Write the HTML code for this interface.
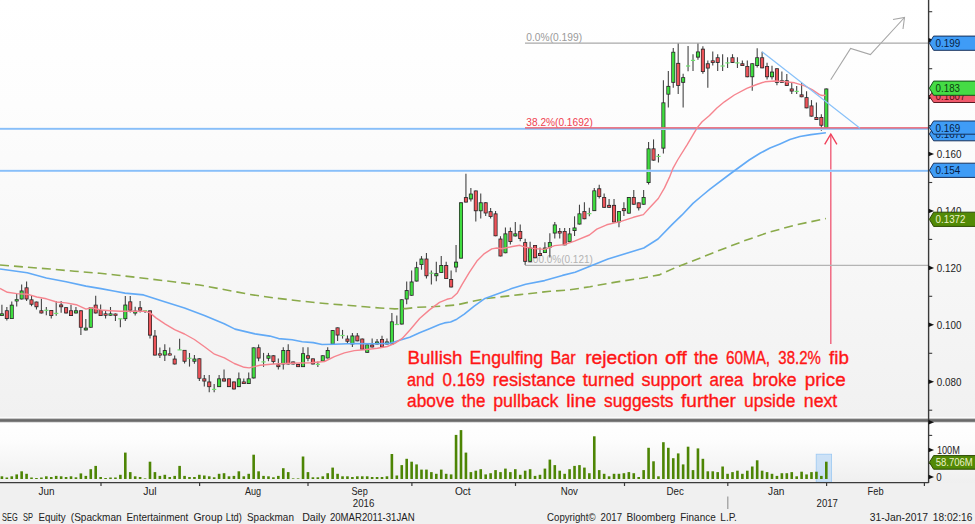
<!DOCTYPE html>
<html><head><meta charset="utf-8"><title>SEG SP Equity</title>
<style>
html,body{margin:0;padding:0;background:#f0f0f0;}
body{width:975px;height:524px;overflow:hidden;position:relative;font-family:"Liberation Sans",sans-serif;}
svg text{font-family:"Liberation Sans",sans-serif;}
</style></head><body>
<svg width="975" height="524" viewBox="0 0 975 524" style="position:absolute;left:0;top:0">
<defs>
<linearGradient id="bg" x1="0" y1="0" x2="0" y2="1"><stop offset="0" stop-color="#ffffff"/><stop offset="0.25" stop-color="#fdfdfd"/><stop offset="1" stop-color="#f1f1f1"/></linearGradient>
<linearGradient id="vbg" x1="0" y1="0" x2="0" y2="1"><stop offset="0" stop-color="#ffffff"/><stop offset="0.3" stop-color="#fdfdfd"/><stop offset="1" stop-color="#efefef"/></linearGradient>
</defs>
<rect x="0" y="0" width="975" height="524" fill="#f0f0f0"/>
<rect x="0" y="0" width="975" height="419" fill="url(#bg)"/>
<rect x="0" y="421" width="975" height="62" fill="url(#vbg)"/>
<text x="526.3" y="41.0" font-size="10.8" fill="#9a9a9a" text-anchor="start" textLength="55.8" lengthAdjust="spacingAndGlyphs" >0.0%(0.199)</text>
<text x="526.3" y="126.0" font-size="10.8" fill="#f0404e" text-anchor="start" textLength="66.5" lengthAdjust="spacingAndGlyphs" >38.2%(0.1692)</text>
<text x="527.3" y="262.8" font-size="10.8" fill="#a8a8a8" text-anchor="start" textLength="65.6" lengthAdjust="spacingAndGlyphs" opacity="0.85">100.0%(0.121)</text>
<polyline points="830.7,79.7 850.6,48.4 870.4,54.6 904.5,17.5" fill="none" stroke="#a6a6a6" stroke-width="1.1"/>
<polyline points="893,19.5 904.5,17.5 903,29" fill="none" stroke="#a6a6a6" stroke-width="1.1"/>
<line x1="830.8" y1="134.5" x2="830.8" y2="344" stroke="#f0607a" stroke-width="1.4"/>
<polyline points="824.7,144.3 830.8,134 836.9,144.3" fill="none" stroke="#f0405a" stroke-width="1.4"/>
<line x1="1.90" y1="304.7" x2="1.90" y2="315.9" stroke="#444" stroke-width="1.1"/>
<rect x="-0.10" y="313.4" width="4" height="2.5" fill="#2a2a2a"/>
<rect x="0.65" y="314.1" width="2.5" height="1.0" fill="#3fdc3f"/>
<line x1="6.84" y1="307.0" x2="6.84" y2="320.6" stroke="#444" stroke-width="1.1"/>
<rect x="4.84" y="310.3" width="4" height="8.7" fill="#2a2a2a"/>
<rect x="5.59" y="311.1" width="2.5" height="7.0" fill="#ec5359"/>
<line x1="11.77" y1="301.6" x2="11.77" y2="319.0" stroke="#444" stroke-width="1.1"/>
<rect x="9.77" y="304.7" width="4" height="14.3" fill="#2a2a2a"/>
<rect x="10.52" y="305.6" width="2.5" height="12.6" fill="#3fdc3f"/>
<line x1="16.71" y1="293.6" x2="16.71" y2="306.6" stroke="#444" stroke-width="1.1"/>
<rect x="14.71" y="299.2" width="4" height="2.2" fill="#2a2a2a"/>
<rect x="15.46" y="299.8" width="2.5" height="1.0" fill="#3fdc3f"/>
<line x1="21.65" y1="284.6" x2="21.65" y2="299.4" stroke="#444" stroke-width="1.1"/>
<rect x="19.65" y="290.5" width="4" height="8.9" fill="#2a2a2a"/>
<rect x="20.40" y="291.4" width="2.5" height="7.2" fill="#3fdc3f"/>
<line x1="26.58" y1="281.4" x2="26.58" y2="301.0" stroke="#444" stroke-width="1.1"/>
<rect x="24.58" y="287.4" width="4" height="12.0" fill="#2a2a2a"/>
<rect x="25.33" y="288.2" width="2.5" height="10.3" fill="#ec5359"/>
<line x1="31.52" y1="295.4" x2="31.52" y2="306.2" stroke="#444" stroke-width="1.1"/>
<rect x="29.52" y="299.4" width="4" height="5.3" fill="#2a2a2a"/>
<rect x="30.27" y="300.2" width="2.5" height="3.6" fill="#ec5359"/>
<line x1="36.46" y1="301.6" x2="36.46" y2="309.5" stroke="#444" stroke-width="1.1"/>
<rect x="34.46" y="301.6" width="4" height="5.6" fill="#2a2a2a"/>
<rect x="35.21" y="302.4" width="2.5" height="3.9" fill="#ec5359"/>
<line x1="41.39" y1="298.8" x2="41.39" y2="313.4" stroke="#444" stroke-width="1.1"/>
<rect x="39.39" y="310.3" width="4" height="3.1" fill="#2a2a2a"/>
<rect x="40.14" y="311.2" width="2.5" height="1.4" fill="#ec5359"/>
<line x1="46.33" y1="307.0" x2="46.33" y2="315.3" stroke="#444" stroke-width="1.1"/>
<line x1="44.23" y1="310.3" x2="48.43" y2="310.3" stroke="#6be06b" stroke-width="1.2"/>
<line x1="51.26" y1="310.0" x2="51.26" y2="318.4" stroke="#444" stroke-width="1.1"/>
<rect x="49.26" y="310.0" width="4" height="6.0" fill="#2a2a2a"/>
<rect x="50.01" y="310.9" width="2.5" height="4.3" fill="#ec5359"/>
<line x1="56.20" y1="301.0" x2="56.20" y2="315.7" stroke="#444" stroke-width="1.1"/>
<line x1="54.10" y1="313.4" x2="58.30" y2="313.4" stroke="#6be06b" stroke-width="1.2"/>
<line x1="61.14" y1="301.0" x2="61.14" y2="312.8" stroke="#444" stroke-width="1.1"/>
<rect x="59.14" y="304.5" width="4" height="2.7" fill="#2a2a2a"/>
<rect x="59.89" y="305.4" width="2.5" height="1.0" fill="#ec5359"/>
<line x1="66.07" y1="307.2" x2="66.07" y2="313.4" stroke="#444" stroke-width="1.1"/>
<rect x="64.07" y="307.2" width="4" height="6.2" fill="#2a2a2a"/>
<rect x="64.82" y="308.0" width="2.5" height="4.5" fill="#ec5359"/>
<line x1="71.01" y1="304.7" x2="71.01" y2="316.0" stroke="#444" stroke-width="1.1"/>
<rect x="69.01" y="310.3" width="4" height="5.7" fill="#2a2a2a"/>
<rect x="69.76" y="311.1" width="2.5" height="4.0" fill="#ec5359"/>
<line x1="75.95" y1="307.0" x2="75.95" y2="313.4" stroke="#444" stroke-width="1.1"/>
<rect x="73.95" y="310.3" width="4" height="3.1" fill="#2a2a2a"/>
<rect x="74.70" y="311.2" width="2.5" height="1.4" fill="#3fdc3f"/>
<line x1="80.88" y1="310.3" x2="80.88" y2="335.0" stroke="#444" stroke-width="1.1"/>
<rect x="78.88" y="310.3" width="4" height="17.4" fill="#2a2a2a"/>
<rect x="79.63" y="311.2" width="2.5" height="15.7" fill="#ec5359"/>
<line x1="85.82" y1="319.0" x2="85.82" y2="330.4" stroke="#444" stroke-width="1.1"/>
<rect x="83.82" y="327.7" width="4" height="2.7" fill="#2a2a2a"/>
<rect x="84.57" y="328.5" width="2.5" height="1.0" fill="#3fdc3f"/>
<line x1="90.76" y1="307.2" x2="90.76" y2="327.7" stroke="#444" stroke-width="1.1"/>
<rect x="88.76" y="307.2" width="4" height="20.5" fill="#2a2a2a"/>
<rect x="89.51" y="308.1" width="2.5" height="18.8" fill="#3fdc3f"/>
<line x1="95.69" y1="295.7" x2="95.69" y2="313.4" stroke="#444" stroke-width="1.1"/>
<rect x="93.69" y="304.7" width="4" height="8.7" fill="#2a2a2a"/>
<rect x="94.44" y="305.5" width="2.5" height="7.0" fill="#ec5359"/>
<line x1="100.63" y1="304.5" x2="100.63" y2="316.0" stroke="#444" stroke-width="1.1"/>
<rect x="98.63" y="310.0" width="4" height="6.0" fill="#2a2a2a"/>
<rect x="99.38" y="310.9" width="2.5" height="4.3" fill="#ec5359"/>
<line x1="105.57" y1="310.3" x2="105.57" y2="318.4" stroke="#444" stroke-width="1.1"/>
<rect x="103.57" y="313.4" width="4" height="2.3" fill="#2a2a2a"/>
<rect x="104.32" y="314.0" width="2.5" height="1.0" fill="#ec5359"/>
<line x1="110.50" y1="307.0" x2="110.50" y2="315.7" stroke="#444" stroke-width="1.1"/>
<rect x="108.50" y="313.4" width="4" height="2.3" fill="#2a2a2a"/>
<rect x="109.25" y="314.0" width="2.5" height="1.0" fill="#3fdc3f"/>
<line x1="115.44" y1="313.4" x2="115.44" y2="321.0" stroke="#444" stroke-width="1.1"/>
<rect x="113.44" y="313.6" width="4" height="2.2" fill="#2a2a2a"/>
<rect x="114.19" y="314.2" width="2.5" height="1.0" fill="#ec5359"/>
<line x1="120.38" y1="318.8" x2="120.38" y2="327.2" stroke="#444" stroke-width="1.1"/>
<line x1="118.28" y1="318.8" x2="122.48" y2="318.8" stroke="#6be06b" stroke-width="1.2"/>
<line x1="125.31" y1="295.9" x2="125.31" y2="321.0" stroke="#444" stroke-width="1.1"/>
<rect x="123.31" y="304.6" width="4" height="14.5" fill="#2a2a2a"/>
<rect x="124.06" y="305.5" width="2.5" height="12.8" fill="#3fdc3f"/>
<line x1="130.25" y1="295.9" x2="130.25" y2="312.5" stroke="#444" stroke-width="1.1"/>
<rect x="128.25" y="301.4" width="4" height="9.3" fill="#2a2a2a"/>
<rect x="129.00" y="302.2" width="2.5" height="7.6" fill="#ec5359"/>
<line x1="135.19" y1="306.7" x2="135.19" y2="315.4" stroke="#444" stroke-width="1.1"/>
<rect x="133.19" y="310.7" width="4" height="2.8" fill="#2a2a2a"/>
<rect x="133.94" y="311.6" width="2.5" height="1.1" fill="#3fdc3f"/>
<line x1="140.12" y1="301.1" x2="140.12" y2="312.5" stroke="#444" stroke-width="1.1"/>
<rect x="138.12" y="307.3" width="4" height="3.4" fill="#2a2a2a"/>
<rect x="138.87" y="308.2" width="2.5" height="1.7" fill="#ec5359"/>
<line x1="145.06" y1="310.7" x2="145.06" y2="313.0" stroke="#444" stroke-width="1.1"/>
<line x1="142.96" y1="310.7" x2="147.16" y2="310.7" stroke="#6be06b" stroke-width="1.2"/>
<line x1="150.00" y1="310.4" x2="150.00" y2="338.4" stroke="#444" stroke-width="1.1"/>
<rect x="148.00" y="310.4" width="4" height="25.2" fill="#2a2a2a"/>
<rect x="148.75" y="311.2" width="2.5" height="23.5" fill="#ec5359"/>
<line x1="154.93" y1="329.9" x2="154.93" y2="355.5" stroke="#444" stroke-width="1.1"/>
<rect x="152.93" y="335.6" width="4" height="19.9" fill="#2a2a2a"/>
<rect x="153.68" y="336.5" width="2.5" height="18.2" fill="#ec5359"/>
<line x1="159.87" y1="347.4" x2="159.87" y2="358.0" stroke="#444" stroke-width="1.1"/>
<rect x="157.87" y="353.4" width="4" height="2.1" fill="#2a2a2a"/>
<rect x="158.62" y="353.9" width="2.5" height="1.0" fill="#ec5359"/>
<line x1="164.80" y1="344.3" x2="164.80" y2="361.0" stroke="#444" stroke-width="1.1"/>
<rect x="162.80" y="350.1" width="4" height="5.4" fill="#2a2a2a"/>
<rect x="163.55" y="351.0" width="2.5" height="3.7" fill="#3fdc3f"/>
<line x1="169.74" y1="347.4" x2="169.74" y2="355.5" stroke="#444" stroke-width="1.1"/>
<rect x="167.74" y="353.4" width="4" height="2.1" fill="#2a2a2a"/>
<rect x="168.49" y="353.9" width="2.5" height="1.0" fill="#ec5359"/>
<line x1="174.68" y1="355.5" x2="174.68" y2="364.4" stroke="#444" stroke-width="1.1"/>
<rect x="172.68" y="358.6" width="4" height="5.8" fill="#2a2a2a"/>
<rect x="173.43" y="359.5" width="2.5" height="4.1" fill="#ec5359"/>
<line x1="179.61" y1="338.7" x2="179.61" y2="349.9" stroke="#444" stroke-width="1.1"/>
<line x1="177.51" y1="349.9" x2="181.71" y2="349.9" stroke="#6be06b" stroke-width="1.2"/>
<line x1="184.55" y1="349.9" x2="184.55" y2="363.5" stroke="#444" stroke-width="1.1"/>
<rect x="182.55" y="349.9" width="4" height="11.8" fill="#2a2a2a"/>
<rect x="183.30" y="350.7" width="2.5" height="10.1" fill="#ec5359"/>
<line x1="189.49" y1="353.0" x2="189.49" y2="366.6" stroke="#444" stroke-width="1.1"/>
<line x1="187.39" y1="358.3" x2="191.59" y2="358.3" stroke="#6be06b" stroke-width="1.2"/>
<line x1="194.42" y1="355.1" x2="194.42" y2="363.8" stroke="#444" stroke-width="1.1"/>
<rect x="192.42" y="358.6" width="4" height="3.1" fill="#2a2a2a"/>
<rect x="193.17" y="359.4" width="2.5" height="1.4" fill="#3fdc3f"/>
<line x1="199.36" y1="358.3" x2="199.36" y2="380.9" stroke="#444" stroke-width="1.1"/>
<rect x="197.36" y="358.3" width="4" height="20.4" fill="#2a2a2a"/>
<rect x="198.11" y="359.2" width="2.5" height="18.7" fill="#ec5359"/>
<line x1="204.30" y1="375.0" x2="204.30" y2="386.5" stroke="#444" stroke-width="1.1"/>
<rect x="202.30" y="378.4" width="4" height="3.1" fill="#2a2a2a"/>
<rect x="203.05" y="379.2" width="2.5" height="1.4" fill="#ec5359"/>
<line x1="209.23" y1="375.0" x2="209.23" y2="392.3" stroke="#444" stroke-width="1.1"/>
<rect x="207.23" y="381.5" width="4" height="5.6" fill="#2a2a2a"/>
<rect x="207.98" y="382.4" width="2.5" height="3.9" fill="#ec5359"/>
<line x1="214.17" y1="384.0" x2="214.17" y2="392.3" stroke="#444" stroke-width="1.1"/>
<line x1="212.07" y1="389.4" x2="216.27" y2="389.4" stroke="#6be06b" stroke-width="1.2"/>
<line x1="219.11" y1="375.0" x2="219.11" y2="387.1" stroke="#444" stroke-width="1.1"/>
<rect x="217.11" y="378.4" width="4" height="8.7" fill="#2a2a2a"/>
<rect x="217.86" y="379.2" width="2.5" height="7.0" fill="#3fdc3f"/>
<line x1="224.04" y1="369.5" x2="224.04" y2="381.5" stroke="#444" stroke-width="1.1"/>
<rect x="222.04" y="378.4" width="4" height="3.1" fill="#2a2a2a"/>
<rect x="222.79" y="379.2" width="2.5" height="1.4" fill="#ec5359"/>
<line x1="228.98" y1="378.4" x2="228.98" y2="387.1" stroke="#444" stroke-width="1.1"/>
<rect x="226.98" y="378.4" width="4" height="8.7" fill="#2a2a2a"/>
<rect x="227.73" y="379.2" width="2.5" height="7.0" fill="#ec5359"/>
<line x1="233.92" y1="381.5" x2="233.92" y2="389.4" stroke="#444" stroke-width="1.1"/>
<rect x="231.92" y="381.5" width="4" height="7.9" fill="#2a2a2a"/>
<rect x="232.67" y="382.4" width="2.5" height="6.2" fill="#ec5359"/>
<line x1="238.85" y1="372.6" x2="238.85" y2="387.1" stroke="#444" stroke-width="1.1"/>
<rect x="236.85" y="378.4" width="4" height="8.7" fill="#2a2a2a"/>
<rect x="237.60" y="379.2" width="2.5" height="7.0" fill="#3fdc3f"/>
<line x1="243.79" y1="378.4" x2="243.79" y2="384.0" stroke="#444" stroke-width="1.1"/>
<rect x="241.79" y="381.5" width="4" height="2.5" fill="#2a2a2a"/>
<rect x="242.54" y="382.2" width="2.5" height="1.0" fill="#ec5359"/>
<line x1="248.72" y1="372.6" x2="248.72" y2="384.0" stroke="#444" stroke-width="1.1"/>
<rect x="246.72" y="378.4" width="4" height="5.6" fill="#2a2a2a"/>
<rect x="247.47" y="379.2" width="2.5" height="3.9" fill="#3fdc3f"/>
<line x1="253.66" y1="347.4" x2="253.66" y2="378.4" stroke="#444" stroke-width="1.1"/>
<rect x="251.66" y="347.4" width="4" height="31.0" fill="#2a2a2a"/>
<rect x="252.41" y="348.2" width="2.5" height="29.3" fill="#3fdc3f"/>
<line x1="258.60" y1="344.4" x2="258.60" y2="361.2" stroke="#444" stroke-width="1.1"/>
<rect x="256.60" y="347.3" width="4" height="11.2" fill="#2a2a2a"/>
<rect x="257.35" y="348.1" width="2.5" height="9.5" fill="#ec5359"/>
<line x1="263.53" y1="352.9" x2="263.53" y2="366.9" stroke="#444" stroke-width="1.1"/>
<line x1="261.43" y1="361.9" x2="265.63" y2="361.9" stroke="#6be06b" stroke-width="1.2"/>
<line x1="268.47" y1="352.9" x2="268.47" y2="361.2" stroke="#444" stroke-width="1.1"/>
<rect x="266.47" y="355.3" width="4" height="3.4" fill="#2a2a2a"/>
<rect x="267.22" y="356.2" width="2.5" height="1.7" fill="#3fdc3f"/>
<line x1="273.41" y1="355.3" x2="273.41" y2="364.0" stroke="#444" stroke-width="1.1"/>
<rect x="271.41" y="355.3" width="4" height="6.6" fill="#2a2a2a"/>
<rect x="272.16" y="356.2" width="2.5" height="4.9" fill="#ec5359"/>
<line x1="278.34" y1="358.4" x2="278.34" y2="369.6" stroke="#444" stroke-width="1.1"/>
<rect x="276.34" y="364.4" width="4" height="2.7" fill="#2a2a2a"/>
<rect x="277.09" y="365.2" width="2.5" height="1.0" fill="#ec5359"/>
<line x1="283.28" y1="347.3" x2="283.28" y2="369.6" stroke="#444" stroke-width="1.1"/>
<rect x="281.28" y="350.0" width="4" height="14.4" fill="#2a2a2a"/>
<rect x="282.03" y="350.9" width="2.5" height="12.7" fill="#3fdc3f"/>
<line x1="288.22" y1="344.2" x2="288.22" y2="364.4" stroke="#444" stroke-width="1.1"/>
<rect x="286.22" y="350.0" width="4" height="14.4" fill="#2a2a2a"/>
<rect x="286.97" y="350.9" width="2.5" height="12.7" fill="#ec5359"/>
<line x1="293.15" y1="361.5" x2="293.15" y2="364.4" stroke="#444" stroke-width="1.1"/>
<rect x="291.15" y="361.5" width="4" height="2.9" fill="#2a2a2a"/>
<rect x="291.90" y="362.4" width="2.5" height="1.2" fill="#ec5359"/>
<line x1="298.09" y1="364.0" x2="298.09" y2="367.1" stroke="#444" stroke-width="1.1"/>
<rect x="296.09" y="364.0" width="4" height="3.1" fill="#2a2a2a"/>
<rect x="296.84" y="364.9" width="2.5" height="1.4" fill="#ec5359"/>
<line x1="303.03" y1="347.3" x2="303.03" y2="367.1" stroke="#444" stroke-width="1.1"/>
<rect x="301.03" y="353.2" width="4" height="13.9" fill="#2a2a2a"/>
<rect x="301.78" y="354.0" width="2.5" height="12.2" fill="#3fdc3f"/>
<line x1="307.96" y1="347.3" x2="307.96" y2="361.2" stroke="#444" stroke-width="1.1"/>
<rect x="305.96" y="355.3" width="4" height="3.4" fill="#2a2a2a"/>
<rect x="306.71" y="356.2" width="2.5" height="1.7" fill="#ec5359"/>
<line x1="312.90" y1="358.4" x2="312.90" y2="364.4" stroke="#444" stroke-width="1.1"/>
<rect x="310.90" y="358.4" width="4" height="6.0" fill="#2a2a2a"/>
<rect x="311.65" y="359.2" width="2.5" height="4.3" fill="#ec5359"/>
<line x1="317.84" y1="361.5" x2="317.84" y2="366.9" stroke="#444" stroke-width="1.1"/>
<line x1="315.74" y1="364.4" x2="319.94" y2="364.4" stroke="#6be06b" stroke-width="1.2"/>
<line x1="322.77" y1="355.3" x2="322.77" y2="361.5" stroke="#444" stroke-width="1.1"/>
<rect x="320.77" y="355.3" width="4" height="6.2" fill="#2a2a2a"/>
<rect x="321.52" y="356.1" width="2.5" height="4.5" fill="#3fdc3f"/>
<line x1="327.71" y1="347.3" x2="327.71" y2="358.4" stroke="#444" stroke-width="1.1"/>
<rect x="325.71" y="350.0" width="4" height="8.4" fill="#2a2a2a"/>
<rect x="326.46" y="350.9" width="2.5" height="6.7" fill="#3fdc3f"/>
<line x1="332.65" y1="330.1" x2="332.65" y2="344.4" stroke="#444" stroke-width="1.1"/>
<rect x="330.65" y="330.1" width="4" height="14.3" fill="#2a2a2a"/>
<rect x="331.40" y="331.0" width="2.5" height="12.6" fill="#3fdc3f"/>
<line x1="337.58" y1="327.4" x2="337.58" y2="341.0" stroke="#444" stroke-width="1.1"/>
<rect x="335.58" y="327.4" width="4" height="8.1" fill="#2a2a2a"/>
<rect x="336.33" y="328.2" width="2.5" height="6.4" fill="#ec5359"/>
<line x1="342.52" y1="329.9" x2="342.52" y2="338.6" stroke="#444" stroke-width="1.1"/>
<line x1="340.42" y1="335.5" x2="344.62" y2="335.5" stroke="#6be06b" stroke-width="1.2"/>
<line x1="347.45" y1="335.5" x2="347.45" y2="343.8" stroke="#444" stroke-width="1.1"/>
<rect x="345.45" y="338.6" width="4" height="3.1" fill="#2a2a2a"/>
<rect x="346.20" y="339.4" width="2.5" height="1.4" fill="#ec5359"/>
<line x1="352.39" y1="333.0" x2="352.39" y2="347.0" stroke="#444" stroke-width="1.1"/>
<rect x="350.39" y="335.5" width="4" height="8.9" fill="#2a2a2a"/>
<rect x="351.14" y="336.4" width="2.5" height="7.2" fill="#3fdc3f"/>
<line x1="357.33" y1="333.0" x2="357.33" y2="341.3" stroke="#444" stroke-width="1.1"/>
<rect x="355.33" y="335.5" width="4" height="5.8" fill="#2a2a2a"/>
<rect x="356.08" y="336.3" width="2.5" height="4.1" fill="#ec5359"/>
<line x1="362.26" y1="338.6" x2="362.26" y2="349.7" stroke="#444" stroke-width="1.1"/>
<rect x="360.26" y="338.6" width="4" height="11.1" fill="#2a2a2a"/>
<rect x="361.01" y="339.4" width="2.5" height="9.4" fill="#ec5359"/>
<line x1="367.20" y1="344.4" x2="367.20" y2="352.8" stroke="#444" stroke-width="1.1"/>
<rect x="365.20" y="344.4" width="4" height="8.4" fill="#2a2a2a"/>
<rect x="365.95" y="345.2" width="2.5" height="6.7" fill="#3fdc3f"/>
<line x1="372.14" y1="338.5" x2="372.14" y2="347.4" stroke="#444" stroke-width="1.1"/>
<rect x="370.14" y="344.5" width="4" height="2.9" fill="#2a2a2a"/>
<rect x="370.89" y="345.4" width="2.5" height="1.2" fill="#ec5359"/>
<line x1="377.07" y1="339.0" x2="377.07" y2="344.4" stroke="#444" stroke-width="1.1"/>
<rect x="375.07" y="341.5" width="4" height="2.9" fill="#2a2a2a"/>
<rect x="375.82" y="342.4" width="2.5" height="1.2" fill="#3fdc3f"/>
<line x1="382.01" y1="335.7" x2="382.01" y2="347.3" stroke="#444" stroke-width="1.1"/>
<rect x="380.01" y="339.0" width="4" height="8.3" fill="#2a2a2a"/>
<rect x="380.76" y="339.8" width="2.5" height="6.6" fill="#ec5359"/>
<line x1="386.95" y1="338.6" x2="386.95" y2="344.4" stroke="#444" stroke-width="1.1"/>
<rect x="384.95" y="341.5" width="4" height="2.9" fill="#2a2a2a"/>
<rect x="385.70" y="342.4" width="2.5" height="1.2" fill="#3fdc3f"/>
<line x1="391.88" y1="313.0" x2="391.88" y2="344.4" stroke="#444" stroke-width="1.1"/>
<rect x="389.88" y="321.4" width="4" height="23.0" fill="#2a2a2a"/>
<rect x="390.63" y="322.2" width="2.5" height="21.3" fill="#3fdc3f"/>
<line x1="396.82" y1="315.4" x2="396.82" y2="324.5" stroke="#444" stroke-width="1.1"/>
<line x1="394.72" y1="324.5" x2="398.92" y2="324.5" stroke="#6be06b" stroke-width="1.2"/>
<line x1="401.76" y1="299.3" x2="401.76" y2="324.5" stroke="#444" stroke-width="1.1"/>
<rect x="399.76" y="299.3" width="4" height="25.2" fill="#2a2a2a"/>
<rect x="400.51" y="300.1" width="2.5" height="23.5" fill="#3fdc3f"/>
<line x1="406.69" y1="281.5" x2="406.69" y2="304.3" stroke="#444" stroke-width="1.1"/>
<rect x="404.69" y="290.1" width="4" height="9.3" fill="#2a2a2a"/>
<rect x="405.44" y="291.0" width="2.5" height="7.6" fill="#3fdc3f"/>
<line x1="411.63" y1="270.4" x2="411.63" y2="295.7" stroke="#444" stroke-width="1.1"/>
<rect x="409.63" y="281.5" width="4" height="14.2" fill="#2a2a2a"/>
<rect x="410.38" y="282.4" width="2.5" height="12.5" fill="#3fdc3f"/>
<line x1="416.57" y1="261.7" x2="416.57" y2="281.5" stroke="#444" stroke-width="1.1"/>
<rect x="414.57" y="267.3" width="4" height="14.2" fill="#2a2a2a"/>
<rect x="415.32" y="268.1" width="2.5" height="12.5" fill="#3fdc3f"/>
<line x1="421.50" y1="256.1" x2="421.50" y2="269.7" stroke="#444" stroke-width="1.1"/>
<rect x="419.50" y="258.6" width="4" height="6.4" fill="#2a2a2a"/>
<rect x="420.25" y="259.5" width="2.5" height="4.7" fill="#3fdc3f"/>
<line x1="426.44" y1="253.0" x2="426.44" y2="278.4" stroke="#444" stroke-width="1.1"/>
<rect x="424.44" y="258.6" width="4" height="17.6" fill="#2a2a2a"/>
<rect x="425.19" y="259.4" width="2.5" height="15.9" fill="#ec5359"/>
<line x1="431.38" y1="270.4" x2="431.38" y2="284.4" stroke="#444" stroke-width="1.1"/>
<line x1="429.28" y1="273.2" x2="433.48" y2="273.2" stroke="#6be06b" stroke-width="1.2"/>
<line x1="436.31" y1="261.7" x2="436.31" y2="281.2" stroke="#444" stroke-width="1.1"/>
<rect x="434.31" y="273.2" width="4" height="3.0" fill="#2a2a2a"/>
<rect x="435.06" y="274.1" width="2.5" height="1.3" fill="#3fdc3f"/>
<line x1="441.25" y1="256.1" x2="441.25" y2="272.9" stroke="#444" stroke-width="1.1"/>
<rect x="439.25" y="265.0" width="4" height="7.9" fill="#2a2a2a"/>
<rect x="440.00" y="265.9" width="2.5" height="6.2" fill="#3fdc3f"/>
<line x1="446.18" y1="261.7" x2="446.18" y2="279.0" stroke="#444" stroke-width="1.1"/>
<rect x="444.18" y="265.0" width="4" height="14.0" fill="#2a2a2a"/>
<rect x="444.93" y="265.9" width="2.5" height="12.3" fill="#ec5359"/>
<line x1="451.12" y1="270.4" x2="451.12" y2="287.4" stroke="#444" stroke-width="1.1"/>
<rect x="449.12" y="279.0" width="4" height="8.4" fill="#2a2a2a"/>
<rect x="449.87" y="279.9" width="2.5" height="6.7" fill="#ec5359"/>
<line x1="456.06" y1="244.9" x2="456.06" y2="272.2" stroke="#444" stroke-width="1.1"/>
<rect x="454.06" y="261.7" width="4" height="5.8" fill="#2a2a2a"/>
<rect x="454.81" y="262.6" width="2.5" height="4.1" fill="#3fdc3f"/>
<line x1="460.99" y1="202.3" x2="460.99" y2="258.6" stroke="#444" stroke-width="1.1"/>
<rect x="458.99" y="202.3" width="4" height="56.3" fill="#2a2a2a"/>
<rect x="459.74" y="203.2" width="2.5" height="54.6" fill="#3fdc3f"/>
<line x1="465.93" y1="173.7" x2="465.93" y2="202.5" stroke="#444" stroke-width="1.1"/>
<rect x="463.93" y="197.1" width="4" height="5.4" fill="#2a2a2a"/>
<rect x="464.68" y="198.0" width="2.5" height="3.7" fill="#ec5359"/>
<line x1="470.87" y1="188.0" x2="470.87" y2="201.6" stroke="#444" stroke-width="1.1"/>
<rect x="468.87" y="193.6" width="4" height="5.8" fill="#2a2a2a"/>
<rect x="469.62" y="194.4" width="2.5" height="4.1" fill="#3fdc3f"/>
<line x1="475.80" y1="190.5" x2="475.80" y2="221.5" stroke="#444" stroke-width="1.1"/>
<rect x="473.80" y="190.5" width="4" height="20.7" fill="#2a2a2a"/>
<rect x="474.55" y="191.3" width="2.5" height="19.0" fill="#ec5359"/>
<line x1="480.74" y1="193.6" x2="480.74" y2="218.6" stroke="#444" stroke-width="1.1"/>
<rect x="478.74" y="202.3" width="4" height="8.9" fill="#2a2a2a"/>
<rect x="479.49" y="203.2" width="2.5" height="7.2" fill="#3fdc3f"/>
<line x1="485.68" y1="202.3" x2="485.68" y2="215.9" stroke="#444" stroke-width="1.1"/>
<rect x="483.68" y="202.3" width="4" height="11.1" fill="#2a2a2a"/>
<rect x="484.43" y="203.2" width="2.5" height="9.4" fill="#ec5359"/>
<line x1="490.61" y1="207.9" x2="490.61" y2="218.6" stroke="#444" stroke-width="1.1"/>
<rect x="488.61" y="211.2" width="4" height="5.7" fill="#2a2a2a"/>
<rect x="489.36" y="212.1" width="2.5" height="4.0" fill="#ec5359"/>
<line x1="495.55" y1="211.0" x2="495.55" y2="236.2" stroke="#444" stroke-width="1.1"/>
<rect x="493.55" y="213.4" width="4" height="22.8" fill="#2a2a2a"/>
<rect x="494.30" y="214.3" width="2.5" height="21.1" fill="#ec5359"/>
<line x1="500.49" y1="236.2" x2="500.49" y2="256.4" stroke="#444" stroke-width="1.1"/>
<rect x="498.49" y="238.6" width="4" height="17.8" fill="#2a2a2a"/>
<rect x="499.24" y="239.5" width="2.5" height="16.1" fill="#ec5359"/>
<line x1="505.42" y1="227.6" x2="505.42" y2="253.2" stroke="#444" stroke-width="1.1"/>
<rect x="503.42" y="233.4" width="4" height="19.8" fill="#2a2a2a"/>
<rect x="504.17" y="234.3" width="2.5" height="18.1" fill="#3fdc3f"/>
<line x1="510.36" y1="227.6" x2="510.36" y2="244.4" stroke="#444" stroke-width="1.1"/>
<rect x="508.36" y="231.0" width="4" height="11.0" fill="#2a2a2a"/>
<rect x="509.11" y="231.8" width="2.5" height="9.3" fill="#ec5359"/>
<line x1="515.30" y1="222.1" x2="515.30" y2="236.4" stroke="#444" stroke-width="1.1"/>
<rect x="513.30" y="233.4" width="4" height="3.0" fill="#2a2a2a"/>
<rect x="514.05" y="234.2" width="2.5" height="1.3" fill="#3fdc3f"/>
<line x1="520.23" y1="224.5" x2="520.23" y2="241.2" stroke="#444" stroke-width="1.1"/>
<rect x="518.23" y="231.0" width="4" height="8.0" fill="#2a2a2a"/>
<rect x="518.98" y="231.8" width="2.5" height="6.3" fill="#ec5359"/>
<line x1="525.17" y1="238.7" x2="525.17" y2="264.9" stroke="#444" stroke-width="1.1"/>
<rect x="523.17" y="242.1" width="4" height="19.7" fill="#2a2a2a"/>
<rect x="523.92" y="242.9" width="2.5" height="18.0" fill="#ec5359"/>
<line x1="530.11" y1="241.8" x2="530.11" y2="261.8" stroke="#444" stroke-width="1.1"/>
<rect x="528.11" y="247.6" width="4" height="14.2" fill="#2a2a2a"/>
<rect x="528.86" y="248.4" width="2.5" height="12.5" fill="#3fdc3f"/>
<line x1="535.04" y1="245.0" x2="535.04" y2="258.2" stroke="#444" stroke-width="1.1"/>
<rect x="533.04" y="245.0" width="4" height="13.2" fill="#2a2a2a"/>
<rect x="533.79" y="245.8" width="2.5" height="11.5" fill="#ec5359"/>
<line x1="539.98" y1="247.6" x2="539.98" y2="256.0" stroke="#444" stroke-width="1.1"/>
<rect x="537.98" y="253.0" width="4" height="3.0" fill="#2a2a2a"/>
<rect x="538.73" y="253.8" width="2.5" height="1.3" fill="#ec5359"/>
<line x1="544.91" y1="242.2" x2="544.91" y2="253.0" stroke="#444" stroke-width="1.1"/>
<rect x="542.91" y="247.6" width="4" height="5.4" fill="#2a2a2a"/>
<rect x="543.66" y="248.5" width="2.5" height="3.7" fill="#3fdc3f"/>
<line x1="549.85" y1="233.2" x2="549.85" y2="257.6" stroke="#444" stroke-width="1.1"/>
<rect x="547.85" y="242.1" width="4" height="5.5" fill="#2a2a2a"/>
<rect x="548.60" y="242.9" width="2.5" height="3.8" fill="#3fdc3f"/>
<line x1="554.79" y1="222.1" x2="554.79" y2="238.4" stroke="#444" stroke-width="1.1"/>
<rect x="552.79" y="224.5" width="4" height="9.0" fill="#2a2a2a"/>
<rect x="553.54" y="225.3" width="2.5" height="7.3" fill="#3fdc3f"/>
<line x1="559.72" y1="227.9" x2="559.72" y2="238.4" stroke="#444" stroke-width="1.1"/>
<rect x="557.72" y="231.0" width="4" height="2.5" fill="#2a2a2a"/>
<rect x="558.47" y="231.8" width="2.5" height="1.0" fill="#ec5359"/>
<line x1="564.66" y1="227.9" x2="564.66" y2="245.3" stroke="#444" stroke-width="1.1"/>
<rect x="562.66" y="231.0" width="4" height="14.3" fill="#2a2a2a"/>
<rect x="563.41" y="231.8" width="2.5" height="12.6" fill="#ec5359"/>
<line x1="569.60" y1="227.9" x2="569.60" y2="242.2" stroke="#444" stroke-width="1.1"/>
<rect x="567.60" y="233.5" width="4" height="8.7" fill="#2a2a2a"/>
<rect x="568.35" y="234.3" width="2.5" height="7.0" fill="#3fdc3f"/>
<line x1="574.53" y1="216.3" x2="574.53" y2="236.0" stroke="#444" stroke-width="1.1"/>
<rect x="572.53" y="227.5" width="4" height="3.5" fill="#2a2a2a"/>
<rect x="573.28" y="228.3" width="2.5" height="1.8" fill="#3fdc3f"/>
<line x1="579.47" y1="204.7" x2="579.47" y2="224.5" stroke="#444" stroke-width="1.1"/>
<rect x="577.47" y="213.4" width="4" height="11.1" fill="#2a2a2a"/>
<rect x="578.22" y="214.2" width="2.5" height="9.4" fill="#3fdc3f"/>
<line x1="584.41" y1="202.2" x2="584.41" y2="219.2" stroke="#444" stroke-width="1.1"/>
<rect x="582.41" y="211.1" width="4" height="8.1" fill="#2a2a2a"/>
<rect x="583.16" y="211.9" width="2.5" height="6.4" fill="#ec5359"/>
<line x1="589.34" y1="207.7" x2="589.34" y2="216.3" stroke="#444" stroke-width="1.1"/>
<line x1="587.24" y1="213.6" x2="591.44" y2="213.6" stroke="#6be06b" stroke-width="1.2"/>
<line x1="594.28" y1="187.9" x2="594.28" y2="211.1" stroke="#444" stroke-width="1.1"/>
<rect x="592.28" y="190.4" width="4" height="20.7" fill="#2a2a2a"/>
<rect x="593.03" y="191.2" width="2.5" height="19.0" fill="#3fdc3f"/>
<line x1="599.22" y1="184.8" x2="599.22" y2="198.5" stroke="#444" stroke-width="1.1"/>
<rect x="597.22" y="188.3" width="4" height="8.7" fill="#2a2a2a"/>
<rect x="597.97" y="189.2" width="2.5" height="7.0" fill="#ec5359"/>
<line x1="604.15" y1="193.5" x2="604.15" y2="207.8" stroke="#444" stroke-width="1.1"/>
<rect x="602.15" y="197.0" width="4" height="10.8" fill="#2a2a2a"/>
<rect x="602.90" y="197.8" width="2.5" height="9.1" fill="#ec5359"/>
<line x1="609.09" y1="199.1" x2="609.09" y2="207.8" stroke="#444" stroke-width="1.1"/>
<rect x="607.09" y="204.9" width="4" height="2.9" fill="#2a2a2a"/>
<rect x="607.84" y="205.8" width="2.5" height="1.2" fill="#ec5359"/>
<line x1="614.03" y1="199.1" x2="614.03" y2="222.4" stroke="#444" stroke-width="1.1"/>
<rect x="612.03" y="204.9" width="4" height="17.5" fill="#2a2a2a"/>
<rect x="612.78" y="205.8" width="2.5" height="15.8" fill="#ec5359"/>
<line x1="618.96" y1="211.1" x2="618.96" y2="227.3" stroke="#444" stroke-width="1.1"/>
<rect x="616.96" y="211.1" width="4" height="11.2" fill="#2a2a2a"/>
<rect x="617.71" y="211.9" width="2.5" height="9.5" fill="#3fdc3f"/>
<line x1="623.90" y1="202.2" x2="623.90" y2="216.1" stroke="#444" stroke-width="1.1"/>
<rect x="621.90" y="208.2" width="4" height="2.9" fill="#2a2a2a"/>
<rect x="622.65" y="209.0" width="2.5" height="1.2" fill="#ec5359"/>
<line x1="628.84" y1="197.0" x2="628.84" y2="213.6" stroke="#444" stroke-width="1.1"/>
<rect x="626.84" y="197.0" width="4" height="16.6" fill="#2a2a2a"/>
<rect x="627.59" y="197.9" width="2.5" height="14.9" fill="#3fdc3f"/>
<line x1="633.77" y1="190.0" x2="633.77" y2="204.7" stroke="#444" stroke-width="1.1"/>
<rect x="631.77" y="197.0" width="4" height="7.7" fill="#2a2a2a"/>
<rect x="632.52" y="197.8" width="2.5" height="6.0" fill="#ec5359"/>
<line x1="638.71" y1="202.4" x2="638.71" y2="210.6" stroke="#444" stroke-width="1.1"/>
<rect x="636.71" y="202.4" width="4" height="5.8" fill="#2a2a2a"/>
<rect x="637.46" y="203.3" width="2.5" height="4.1" fill="#ec5359"/>
<line x1="643.64" y1="190.0" x2="643.64" y2="204.7" stroke="#444" stroke-width="1.1"/>
<rect x="641.64" y="197.0" width="4" height="7.7" fill="#2a2a2a"/>
<rect x="642.39" y="197.8" width="2.5" height="6.0" fill="#3fdc3f"/>
<line x1="648.58" y1="141.9" x2="648.58" y2="184.6" stroke="#444" stroke-width="1.1"/>
<rect x="646.58" y="148.4" width="4" height="34.6" fill="#2a2a2a"/>
<rect x="647.33" y="149.2" width="2.5" height="32.9" fill="#3fdc3f"/>
<line x1="653.52" y1="139.4" x2="653.52" y2="160.6" stroke="#444" stroke-width="1.1"/>
<rect x="651.52" y="148.4" width="4" height="12.2" fill="#2a2a2a"/>
<rect x="652.27" y="149.2" width="2.5" height="10.5" fill="#ec5359"/>
<line x1="658.45" y1="154.0" x2="658.45" y2="162.5" stroke="#444" stroke-width="1.1"/>
<line x1="656.35" y1="156.4" x2="660.55" y2="156.4" stroke="#6be06b" stroke-width="1.2"/>
<line x1="663.39" y1="80.3" x2="663.39" y2="153.6" stroke="#444" stroke-width="1.1"/>
<rect x="661.39" y="102.4" width="4" height="46.2" fill="#2a2a2a"/>
<rect x="662.14" y="103.2" width="2.5" height="44.5" fill="#3fdc3f"/>
<line x1="668.33" y1="71.0" x2="668.33" y2="107.4" stroke="#444" stroke-width="1.1"/>
<rect x="666.33" y="85.9" width="4" height="8.7" fill="#2a2a2a"/>
<rect x="667.08" y="86.8" width="2.5" height="7.0" fill="#3fdc3f"/>
<line x1="673.26" y1="48.0" x2="673.26" y2="87.7" stroke="#444" stroke-width="1.1"/>
<rect x="671.26" y="51.8" width="4" height="31.0" fill="#2a2a2a"/>
<rect x="672.01" y="52.6" width="2.5" height="29.3" fill="#3fdc3f"/>
<line x1="678.20" y1="43.1" x2="678.20" y2="93.9" stroke="#444" stroke-width="1.1"/>
<rect x="676.20" y="62.9" width="4" height="23.0" fill="#2a2a2a"/>
<rect x="676.95" y="63.8" width="2.5" height="21.3" fill="#ec5359"/>
<line x1="683.14" y1="73.7" x2="683.14" y2="107.4" stroke="#444" stroke-width="1.1"/>
<rect x="681.14" y="77.2" width="4" height="5.6" fill="#2a2a2a"/>
<rect x="681.89" y="78.0" width="2.5" height="3.9" fill="#3fdc3f"/>
<line x1="688.07" y1="45.9" x2="688.07" y2="71.2" stroke="#444" stroke-width="1.1"/>
<line x1="685.97" y1="66.0" x2="690.17" y2="66.0" stroke="#6be06b" stroke-width="1.2"/>
<line x1="693.01" y1="54.2" x2="693.01" y2="71.0" stroke="#444" stroke-width="1.1"/>
<line x1="690.91" y1="60.4" x2="695.11" y2="60.4" stroke="#6be06b" stroke-width="1.2"/>
<line x1="697.95" y1="43.1" x2="697.95" y2="59.8" stroke="#444" stroke-width="1.1"/>
<rect x="695.95" y="51.5" width="4" height="6.1" fill="#2a2a2a"/>
<rect x="696.70" y="52.3" width="2.5" height="4.4" fill="#3fdc3f"/>
<line x1="702.88" y1="46.2" x2="702.88" y2="73.7" stroke="#444" stroke-width="1.1"/>
<rect x="700.88" y="48.7" width="4" height="23.3" fill="#2a2a2a"/>
<rect x="701.63" y="49.6" width="2.5" height="21.6" fill="#ec5359"/>
<line x1="707.82" y1="60.4" x2="707.82" y2="87.7" stroke="#444" stroke-width="1.1"/>
<rect x="705.82" y="63.3" width="4" height="5.2" fill="#2a2a2a"/>
<rect x="706.57" y="64.2" width="2.5" height="3.5" fill="#ec5359"/>
<line x1="712.76" y1="51.5" x2="712.76" y2="65.4" stroke="#444" stroke-width="1.1"/>
<rect x="710.76" y="60.4" width="4" height="2.5" fill="#2a2a2a"/>
<rect x="711.51" y="61.1" width="2.5" height="1.0" fill="#ec5359"/>
<line x1="717.69" y1="54.2" x2="717.69" y2="71.0" stroke="#444" stroke-width="1.1"/>
<rect x="715.69" y="57.3" width="4" height="5.6" fill="#2a2a2a"/>
<rect x="716.44" y="58.1" width="2.5" height="3.9" fill="#ec5359"/>
<line x1="722.63" y1="54.2" x2="722.63" y2="71.0" stroke="#444" stroke-width="1.1"/>
<line x1="720.53" y1="66.0" x2="724.73" y2="66.0" stroke="#6be06b" stroke-width="1.2"/>
<line x1="727.57" y1="57.3" x2="727.57" y2="67.9" stroke="#444" stroke-width="1.1"/>
<line x1="725.47" y1="62.9" x2="729.67" y2="62.9" stroke="#6be06b" stroke-width="1.2"/>
<line x1="732.50" y1="54.2" x2="732.50" y2="62.9" stroke="#444" stroke-width="1.1"/>
<rect x="730.50" y="57.3" width="4" height="5.6" fill="#2a2a2a"/>
<rect x="731.25" y="58.1" width="2.5" height="3.9" fill="#ec5359"/>
<line x1="737.44" y1="57.3" x2="737.44" y2="67.9" stroke="#444" stroke-width="1.1"/>
<line x1="735.34" y1="62.9" x2="739.54" y2="62.9" stroke="#6be06b" stroke-width="1.2"/>
<line x1="742.37" y1="60.4" x2="742.37" y2="66.0" stroke="#444" stroke-width="1.1"/>
<rect x="740.37" y="63.3" width="4" height="2.7" fill="#2a2a2a"/>
<rect x="741.12" y="64.2" width="2.5" height="1.0" fill="#ec5359"/>
<line x1="747.31" y1="60.4" x2="747.31" y2="77.2" stroke="#444" stroke-width="1.1"/>
<rect x="745.31" y="66.0" width="4" height="11.2" fill="#2a2a2a"/>
<rect x="746.06" y="66.8" width="2.5" height="9.5" fill="#ec5359"/>
<line x1="752.25" y1="63.3" x2="752.25" y2="90.8" stroke="#444" stroke-width="1.1"/>
<rect x="750.25" y="63.3" width="4" height="13.9" fill="#2a2a2a"/>
<rect x="751.00" y="64.1" width="2.5" height="12.2" fill="#3fdc3f"/>
<line x1="757.18" y1="48.2" x2="757.18" y2="67.5" stroke="#444" stroke-width="1.1"/>
<rect x="755.18" y="57.3" width="4" height="8.7" fill="#2a2a2a"/>
<rect x="755.93" y="58.1" width="2.5" height="7.0" fill="#3fdc3f"/>
<line x1="762.12" y1="51.8" x2="762.12" y2="68.3" stroke="#444" stroke-width="1.1"/>
<rect x="760.12" y="57.3" width="4" height="11.0" fill="#2a2a2a"/>
<rect x="760.87" y="58.1" width="2.5" height="9.3" fill="#ec5359"/>
<line x1="767.06" y1="62.7" x2="767.06" y2="79.5" stroke="#444" stroke-width="1.1"/>
<rect x="765.06" y="66.0" width="4" height="11.2" fill="#2a2a2a"/>
<rect x="765.81" y="66.8" width="2.5" height="9.5" fill="#ec5359"/>
<line x1="771.99" y1="65.8" x2="771.99" y2="79.5" stroke="#444" stroke-width="1.1"/>
<rect x="769.99" y="71.6" width="4" height="5.6" fill="#2a2a2a"/>
<rect x="770.74" y="72.5" width="2.5" height="3.9" fill="#3fdc3f"/>
<line x1="776.93" y1="68.3" x2="776.93" y2="85.3" stroke="#444" stroke-width="1.1"/>
<rect x="774.93" y="68.3" width="4" height="14.5" fill="#2a2a2a"/>
<rect x="775.68" y="69.1" width="2.5" height="12.8" fill="#ec5359"/>
<line x1="781.87" y1="71.6" x2="781.87" y2="82.8" stroke="#444" stroke-width="1.1"/>
<rect x="779.87" y="80.3" width="4" height="2.5" fill="#2a2a2a"/>
<rect x="780.62" y="81.0" width="2.5" height="1.0" fill="#ec5359"/>
<line x1="786.80" y1="74.1" x2="786.80" y2="85.9" stroke="#444" stroke-width="1.1"/>
<rect x="784.80" y="80.3" width="4" height="5.6" fill="#2a2a2a"/>
<rect x="785.55" y="81.1" width="2.5" height="3.9" fill="#ec5359"/>
<line x1="791.74" y1="82.8" x2="791.74" y2="94.0" stroke="#444" stroke-width="1.1"/>
<rect x="789.74" y="88.5" width="4" height="3.0" fill="#2a2a2a"/>
<rect x="790.49" y="89.3" width="2.5" height="1.3" fill="#ec5359"/>
<line x1="796.68" y1="85.9" x2="796.68" y2="94.0" stroke="#444" stroke-width="1.1"/>
<line x1="794.58" y1="91.4" x2="798.78" y2="91.4" stroke="#6be06b" stroke-width="1.2"/>
<line x1="801.61" y1="82.8" x2="801.61" y2="97.2" stroke="#444" stroke-width="1.1"/>
<rect x="799.61" y="94.4" width="4" height="2.8" fill="#2a2a2a"/>
<rect x="800.36" y="95.3" width="2.5" height="1.1" fill="#ec5359"/>
<line x1="806.55" y1="91.3" x2="806.55" y2="108.3" stroke="#444" stroke-width="1.1"/>
<rect x="804.55" y="97.2" width="4" height="11.1" fill="#2a2a2a"/>
<rect x="805.30" y="98.0" width="2.5" height="9.4" fill="#ec5359"/>
<line x1="811.49" y1="100.1" x2="811.49" y2="116.6" stroke="#444" stroke-width="1.1"/>
<rect x="809.49" y="105.5" width="4" height="11.1" fill="#2a2a2a"/>
<rect x="810.24" y="106.3" width="2.5" height="9.4" fill="#ec5359"/>
<line x1="816.42" y1="102.4" x2="816.42" y2="120.0" stroke="#444" stroke-width="1.1"/>
<rect x="814.42" y="117.0" width="4" height="3.0" fill="#2a2a2a"/>
<rect x="815.17" y="117.8" width="2.5" height="1.3" fill="#ec5359"/>
<line x1="821.36" y1="114.2" x2="821.36" y2="130.7" stroke="#444" stroke-width="1.1"/>
<rect x="819.36" y="117.0" width="4" height="8.7" fill="#2a2a2a"/>
<rect x="820.11" y="117.8" width="2.5" height="7.0" fill="#ec5359"/>
<line x1="826.30" y1="88.5" x2="826.30" y2="127.8" stroke="#444" stroke-width="1.1"/>
<rect x="824.30" y="88.5" width="4" height="39.3" fill="#2a2a2a"/>
<rect x="825.05" y="89.4" width="2.5" height="37.6" fill="#3fdc3f"/>
<line x1="0" y1="128.8" x2="928.6" y2="128.8" stroke="#d9e9fc" stroke-width="2.4"/>
<line x1="0" y1="128.8" x2="928.6" y2="128.8" stroke="#6cb0f8" stroke-width="1.2"/>
<line x1="0" y1="170.8" x2="928.6" y2="170.8" stroke="#d9e9fc" stroke-width="2.4"/>
<line x1="0" y1="170.8" x2="928.6" y2="170.8" stroke="#6cb0f8" stroke-width="1.2"/>
<line x1="525" y1="43.2" x2="928.6" y2="43.2" stroke="#a9a9a9" stroke-width="1.2"/>
<line x1="525" y1="265.3" x2="928.6" y2="265.3" stroke="#b4b4b4" stroke-width="1.2"/>
<line x1="525" y1="127.8" x2="928.6" y2="127.8" stroke="#f0525f" stroke-width="1.2"/>
<polyline points="0.0,265.0 25.0,267.0 50.0,269.0 74.4,271.2 100.0,273.3 117.9,275.2 150.0,279.0 175.0,282.0 199.4,285.0 231.7,291.0 250.0,294.5 275.0,298.0 300.0,301.0 325.0,303.5 350.0,305.5 365.0,306.8 379.9,308.0 394.8,308.9 406.0,308.6 417.1,307.3 429.5,306.8 441.9,306.1 456.8,304.9 470.5,301.8 485.0,298.7 499.3,297.0 520.0,294.6 550.0,291.3 568.8,290.0 590.0,286.7 615.6,282.1 641.3,278.2 659.2,274.9 674.6,268.0 692.6,261.0 718.2,250.8 743.8,241.0 769.5,232.1 795.1,225.1 825.9,218.5" fill="none" stroke="#8aaa4a" stroke-width="1.6" stroke-linejoin="round" stroke-dasharray="9,5"/>
<polyline points="0.0,269.0 7.4,270.0 27.2,272.7 46.4,278.0 66.1,281.8 86.0,286.1 100.9,288.6 115.0,291.2 124.9,293.1 143.5,294.9 164.6,301.8 184.5,308.0 204.4,315.4 224.2,323.7 235.0,329.1 255.0,333.9 269.9,336.1 278.6,338.6 292.2,339.8 302.2,341.7 313.3,342.6 322.0,344.5 334.4,344.2 354.3,343.5 375.0,343.7 389.8,343.4 399.7,340.3 409.7,337.2 419.6,332.8 429.5,328.7 439.5,324.5 444.4,322.9 450.6,322.0 456.8,319.2 464.3,314.2 474.2,306.1 485.0,298.4 499.3,293.3 511.7,288.6 525.7,284.3 544.6,280.6 562.5,275.4 575.1,272.3 591.8,265.4 608.0,259.0 643.8,248.0 658.0,239.0 672.0,224.6 681.8,215.2 693.0,203.4 701.7,196.0 710.0,189.2 730.0,174.0 749.2,160.0 760.0,153.3 770.0,148.0 780.0,143.9 789.9,139.6 799.9,136.5 811.0,134.6 825.9,132.8" fill="none" stroke="#62aaf6" stroke-width="1.6" stroke-linejoin="round"/>
<polyline points="0.0,288.4 7.4,292.3 17.0,293.6 27.2,294.2 36.8,297.0 46.4,298.8 56.6,302.0 66.1,302.9 76.3,304.7 86.0,309.1 91.0,307.8 100.9,310.0 110.4,310.7 120.0,311.3 145.4,311.3 150.1,312.9 156.0,317.9 165.3,324.1 174.6,329.7 184.5,334.0 194.4,339.5 204.5,346.8 214.5,354.2 224.4,357.9 234.3,363.5 244.2,367.3 249.2,367.9 254.2,366.6 260.0,365.2 273.6,364.0 292.2,363.2 310.8,362.8 324.5,361.5 334.4,356.6 344.4,352.9 354.3,350.6 364.2,349.8 377.4,348.3 387.3,346.5 394.8,343.4 402.2,338.4 409.7,330.3 419.6,318.5 429.5,309.9 439.5,302.4 446.9,299.3 451.9,298.1 457.1,293.3 462.0,284.6 469.5,272.2 476.9,261.1 484.4,253.6 491.8,248.9 496.8,248.0 501.8,248.7 512.4,246.5 519.9,245.3 524.8,247.1 534.7,248.6 544.7,249.4 554.6,245.6 564.5,244.6 574.5,241.2 589.4,235.0 596.8,229.1 606.7,224.8 621.0,221.4 633.4,217.3 643.4,214.6 649.6,207.8 658.3,198.5 664.5,187.9 669.4,177.4 673.1,168.1 677.6,160.0 687.2,144.6 697.1,127.9 702.1,121.7 709.5,115.5 716.9,108.0 724.4,101.8 734.3,95.0 746.8,88.4 756.7,84.5 764.9,81.8 774.9,81.0 784.8,81.6 794.7,82.8 804.6,85.9 812.1,89.6 819.5,94.6 822.0,95.5 825.7,95.3" fill="none" stroke="#f6858f" stroke-width="1.4" stroke-linejoin="round"/>
<line x1="762.1" y1="51.8" x2="860" y2="128.2" stroke="#86c0f9" stroke-width="1.1"/>
<rect x="0" y="416.8" width="975" height="2" fill="#fbfbfb"/>
<rect x="0" y="418.5" width="975" height="3.8" fill="#9a9a9a"/>
<rect x="0" y="419.1" width="975" height="2.6" fill="#787878"/>
<rect x="0" y="419.7" width="975" height="1.4" fill="#6a6a6a"/>
<rect x="816.2" y="454.2" width="15.4" height="28" fill="#a9d0f5" fill-opacity="0.55" stroke="#9cc8f2" stroke-width="0.8"/>
<rect x="0.60" y="476.3" width="2.6" height="2.7" fill="#4d8504"/>
<rect x="5.54" y="477.5" width="2.6" height="1.5" fill="#4d8504"/>
<rect x="10.47" y="476.3" width="2.6" height="2.7" fill="#4d8504"/>
<rect x="15.41" y="474.4" width="2.6" height="4.6" fill="#4d8504"/>
<rect x="20.35" y="471.3" width="2.6" height="7.7" fill="#4d8504"/>
<rect x="25.28" y="473.8" width="2.6" height="5.2" fill="#4d8504"/>
<rect x="30.22" y="477.5" width="2.6" height="1.5" fill="#4d8504"/>
<rect x="35.16" y="478.0" width="2.6" height="1.0" fill="#4d8504"/>
<rect x="40.09" y="477.5" width="2.6" height="1.5" fill="#4d8504"/>
<rect x="45.03" y="476.3" width="2.6" height="2.7" fill="#4d8504"/>
<rect x="49.96" y="477.0" width="2.6" height="2.0" fill="#4d8504"/>
<rect x="54.90" y="475.9" width="2.6" height="3.1" fill="#4d8504"/>
<rect x="59.84" y="476.3" width="2.6" height="2.7" fill="#4d8504"/>
<rect x="64.77" y="477.0" width="2.6" height="2.0" fill="#4d8504"/>
<rect x="69.71" y="476.3" width="2.6" height="2.7" fill="#4d8504"/>
<rect x="74.65" y="477.3" width="2.6" height="1.7" fill="#4d8504"/>
<rect x="79.58" y="473.4" width="2.6" height="5.6" fill="#4d8504"/>
<rect x="84.52" y="475.9" width="2.6" height="3.1" fill="#4d8504"/>
<rect x="89.46" y="469.2" width="2.6" height="9.8" fill="#4d8504"/>
<rect x="94.39" y="465.9" width="2.6" height="13.1" fill="#4d8504"/>
<rect x="99.33" y="477.0" width="2.6" height="2.0" fill="#4d8504"/>
<rect x="104.27" y="478.0" width="2.6" height="1.0" fill="#4d8504"/>
<rect x="109.20" y="477.5" width="2.6" height="1.5" fill="#4d8504"/>
<rect x="114.14" y="477.5" width="2.6" height="1.5" fill="#4d8504"/>
<rect x="119.08" y="474.8" width="2.6" height="4.2" fill="#4d8504"/>
<rect x="124.01" y="452.6" width="2.6" height="26.4" fill="#4d8504"/>
<rect x="128.95" y="472.1" width="2.6" height="6.9" fill="#4d8504"/>
<rect x="133.89" y="476.3" width="2.6" height="2.7" fill="#4d8504"/>
<rect x="138.82" y="477.0" width="2.6" height="2.0" fill="#4d8504"/>
<rect x="143.76" y="478.4" width="2.6" height="0.6" fill="#4d8504"/>
<rect x="148.69" y="461.7" width="2.6" height="17.3" fill="#4d8504"/>
<rect x="153.63" y="472.1" width="2.6" height="6.9" fill="#4d8504"/>
<rect x="158.57" y="475.9" width="2.6" height="3.1" fill="#4d8504"/>
<rect x="163.50" y="474.8" width="2.6" height="4.2" fill="#4d8504"/>
<rect x="168.44" y="477.0" width="2.6" height="2.0" fill="#4d8504"/>
<rect x="173.38" y="475.9" width="2.6" height="3.1" fill="#4d8504"/>
<rect x="178.31" y="465.9" width="2.6" height="13.1" fill="#4d8504"/>
<rect x="183.25" y="475.9" width="2.6" height="3.1" fill="#4d8504"/>
<rect x="188.19" y="477.0" width="2.6" height="2.0" fill="#4d8504"/>
<rect x="193.12" y="477.0" width="2.6" height="2.0" fill="#4d8504"/>
<rect x="198.06" y="474.8" width="2.6" height="4.2" fill="#4d8504"/>
<rect x="203.00" y="475.5" width="2.6" height="3.5" fill="#4d8504"/>
<rect x="207.93" y="476.3" width="2.6" height="2.7" fill="#4d8504"/>
<rect x="212.87" y="477.3" width="2.6" height="1.7" fill="#4d8504"/>
<rect x="217.81" y="473.8" width="2.6" height="5.2" fill="#4d8504"/>
<rect x="222.74" y="473.2" width="2.6" height="5.8" fill="#4d8504"/>
<rect x="227.68" y="476.3" width="2.6" height="2.7" fill="#4d8504"/>
<rect x="232.62" y="475.9" width="2.6" height="3.1" fill="#4d8504"/>
<rect x="237.55" y="471.3" width="2.6" height="7.7" fill="#4d8504"/>
<rect x="242.49" y="476.3" width="2.6" height="2.7" fill="#4d8504"/>
<rect x="247.42" y="473.8" width="2.6" height="5.2" fill="#4d8504"/>
<rect x="252.36" y="454.7" width="2.6" height="24.3" fill="#4d8504"/>
<rect x="257.30" y="471.3" width="2.6" height="7.7" fill="#4d8504"/>
<rect x="262.23" y="475.9" width="2.6" height="3.1" fill="#4d8504"/>
<rect x="267.17" y="476.3" width="2.6" height="2.7" fill="#4d8504"/>
<rect x="272.11" y="477.3" width="2.6" height="1.7" fill="#4d8504"/>
<rect x="277.04" y="475.9" width="2.6" height="3.1" fill="#4d8504"/>
<rect x="281.98" y="468.2" width="2.6" height="10.8" fill="#4d8504"/>
<rect x="286.92" y="472.1" width="2.6" height="6.9" fill="#4d8504"/>
<rect x="291.85" y="478.4" width="2.6" height="0.6" fill="#4d8504"/>
<rect x="296.79" y="478.4" width="2.6" height="0.6" fill="#4d8504"/>
<rect x="301.73" y="456.5" width="2.6" height="22.5" fill="#4d8504"/>
<rect x="306.66" y="472.1" width="2.6" height="6.9" fill="#4d8504"/>
<rect x="311.60" y="477.3" width="2.6" height="1.7" fill="#4d8504"/>
<rect x="316.54" y="477.3" width="2.6" height="1.7" fill="#4d8504"/>
<rect x="321.47" y="476.3" width="2.6" height="2.7" fill="#4d8504"/>
<rect x="326.41" y="473.2" width="2.6" height="5.8" fill="#4d8504"/>
<rect x="331.35" y="467.6" width="2.6" height="11.4" fill="#4d8504"/>
<rect x="336.28" y="473.8" width="2.6" height="5.2" fill="#4d8504"/>
<rect x="341.22" y="476.3" width="2.6" height="2.7" fill="#4d8504"/>
<rect x="346.15" y="476.3" width="2.6" height="2.7" fill="#4d8504"/>
<rect x="351.09" y="477.0" width="2.6" height="2.0" fill="#4d8504"/>
<rect x="356.03" y="476.3" width="2.6" height="2.7" fill="#4d8504"/>
<rect x="360.96" y="476.3" width="2.6" height="2.7" fill="#4d8504"/>
<rect x="365.90" y="476.3" width="2.6" height="2.7" fill="#4d8504"/>
<rect x="370.84" y="477.0" width="2.6" height="2.0" fill="#4d8504"/>
<rect x="375.77" y="477.0" width="2.6" height="2.0" fill="#4d8504"/>
<rect x="380.71" y="477.0" width="2.6" height="2.0" fill="#4d8504"/>
<rect x="385.65" y="476.3" width="2.6" height="2.7" fill="#4d8504"/>
<rect x="390.58" y="454.0" width="2.6" height="25.0" fill="#4d8504"/>
<rect x="395.52" y="475.5" width="2.6" height="3.5" fill="#4d8504"/>
<rect x="400.46" y="465.1" width="2.6" height="13.9" fill="#4d8504"/>
<rect x="405.39" y="458.8" width="2.6" height="20.2" fill="#4d8504"/>
<rect x="410.33" y="461.7" width="2.6" height="17.3" fill="#4d8504"/>
<rect x="415.27" y="464.4" width="2.6" height="14.6" fill="#4d8504"/>
<rect x="420.20" y="469.6" width="2.6" height="9.4" fill="#4d8504"/>
<rect x="425.14" y="469.6" width="2.6" height="9.4" fill="#4d8504"/>
<rect x="430.08" y="472.1" width="2.6" height="6.9" fill="#4d8504"/>
<rect x="435.01" y="473.8" width="2.6" height="5.2" fill="#4d8504"/>
<rect x="439.95" y="469.6" width="2.6" height="9.4" fill="#4d8504"/>
<rect x="444.88" y="473.8" width="2.6" height="5.2" fill="#4d8504"/>
<rect x="449.82" y="474.4" width="2.6" height="4.6" fill="#4d8504"/>
<rect x="454.76" y="434.9" width="2.6" height="44.1" fill="#4d8504"/>
<rect x="459.69" y="430.1" width="2.6" height="48.9" fill="#4d8504"/>
<rect x="464.63" y="452.6" width="2.6" height="26.4" fill="#4d8504"/>
<rect x="469.57" y="472.1" width="2.6" height="6.9" fill="#4d8504"/>
<rect x="474.50" y="470.7" width="2.6" height="8.3" fill="#4d8504"/>
<rect x="479.44" y="469.2" width="2.6" height="9.8" fill="#4d8504"/>
<rect x="484.38" y="474.4" width="2.6" height="4.6" fill="#4d8504"/>
<rect x="489.31" y="473.2" width="2.6" height="5.8" fill="#4d8504"/>
<rect x="494.25" y="470.1" width="2.6" height="8.9" fill="#4d8504"/>
<rect x="499.19" y="472.1" width="2.6" height="6.9" fill="#4d8504"/>
<rect x="504.12" y="468.6" width="2.6" height="10.4" fill="#4d8504"/>
<rect x="509.06" y="472.1" width="2.6" height="6.9" fill="#4d8504"/>
<rect x="514.00" y="469.2" width="2.6" height="9.8" fill="#4d8504"/>
<rect x="518.93" y="474.8" width="2.6" height="4.2" fill="#4d8504"/>
<rect x="523.87" y="470.7" width="2.6" height="8.3" fill="#4d8504"/>
<rect x="528.81" y="469.2" width="2.6" height="9.8" fill="#4d8504"/>
<rect x="533.74" y="475.9" width="2.6" height="3.1" fill="#4d8504"/>
<rect x="538.68" y="474.8" width="2.6" height="4.2" fill="#4d8504"/>
<rect x="543.62" y="468.6" width="2.6" height="10.4" fill="#4d8504"/>
<rect x="548.55" y="459.6" width="2.6" height="19.4" fill="#4d8504"/>
<rect x="553.49" y="465.1" width="2.6" height="13.9" fill="#4d8504"/>
<rect x="558.42" y="470.7" width="2.6" height="8.3" fill="#4d8504"/>
<rect x="563.36" y="473.8" width="2.6" height="5.2" fill="#4d8504"/>
<rect x="568.30" y="469.2" width="2.6" height="9.8" fill="#4d8504"/>
<rect x="573.23" y="465.9" width="2.6" height="13.1" fill="#4d8504"/>
<rect x="578.17" y="465.1" width="2.6" height="13.9" fill="#4d8504"/>
<rect x="583.11" y="467.6" width="2.6" height="11.4" fill="#4d8504"/>
<rect x="588.04" y="473.2" width="2.6" height="5.8" fill="#4d8504"/>
<rect x="592.98" y="436.3" width="2.6" height="42.7" fill="#4d8504"/>
<rect x="597.92" y="470.1" width="2.6" height="8.9" fill="#4d8504"/>
<rect x="602.85" y="473.8" width="2.6" height="5.2" fill="#4d8504"/>
<rect x="607.79" y="476.3" width="2.6" height="2.7" fill="#4d8504"/>
<rect x="612.73" y="473.8" width="2.6" height="5.2" fill="#4d8504"/>
<rect x="617.66" y="473.8" width="2.6" height="5.2" fill="#4d8504"/>
<rect x="622.60" y="473.2" width="2.6" height="5.8" fill="#4d8504"/>
<rect x="627.54" y="472.1" width="2.6" height="6.9" fill="#4d8504"/>
<rect x="632.47" y="473.2" width="2.6" height="5.8" fill="#4d8504"/>
<rect x="637.41" y="477.0" width="2.6" height="2.0" fill="#4d8504"/>
<rect x="642.35" y="470.1" width="2.6" height="8.9" fill="#4d8504"/>
<rect x="647.28" y="447.8" width="2.6" height="31.2" fill="#4d8504"/>
<rect x="652.22" y="461.3" width="2.6" height="17.7" fill="#4d8504"/>
<rect x="657.15" y="476.3" width="2.6" height="2.7" fill="#4d8504"/>
<rect x="662.09" y="442.2" width="2.6" height="36.8" fill="#4d8504"/>
<rect x="667.03" y="447.8" width="2.6" height="31.2" fill="#4d8504"/>
<rect x="671.96" y="458.2" width="2.6" height="20.8" fill="#4d8504"/>
<rect x="676.90" y="453.4" width="2.6" height="25.6" fill="#4d8504"/>
<rect x="681.84" y="464.4" width="2.6" height="14.6" fill="#4d8504"/>
<rect x="686.77" y="446.7" width="2.6" height="32.3" fill="#4d8504"/>
<rect x="691.71" y="470.1" width="2.6" height="8.9" fill="#4d8504"/>
<rect x="696.65" y="448.4" width="2.6" height="30.6" fill="#4d8504"/>
<rect x="701.58" y="458.8" width="2.6" height="20.2" fill="#4d8504"/>
<rect x="706.52" y="471.3" width="2.6" height="7.7" fill="#4d8504"/>
<rect x="711.46" y="471.3" width="2.6" height="7.7" fill="#4d8504"/>
<rect x="716.39" y="472.1" width="2.6" height="6.9" fill="#4d8504"/>
<rect x="721.33" y="466.5" width="2.6" height="12.5" fill="#4d8504"/>
<rect x="726.27" y="473.8" width="2.6" height="5.2" fill="#4d8504"/>
<rect x="731.20" y="472.1" width="2.6" height="6.9" fill="#4d8504"/>
<rect x="736.14" y="470.7" width="2.6" height="8.3" fill="#4d8504"/>
<rect x="741.07" y="473.8" width="2.6" height="5.2" fill="#4d8504"/>
<rect x="746.01" y="470.7" width="2.6" height="8.3" fill="#4d8504"/>
<rect x="750.95" y="466.5" width="2.6" height="12.5" fill="#4d8504"/>
<rect x="755.88" y="460.3" width="2.6" height="18.7" fill="#4d8504"/>
<rect x="760.82" y="470.7" width="2.6" height="8.3" fill="#4d8504"/>
<rect x="765.76" y="472.1" width="2.6" height="6.9" fill="#4d8504"/>
<rect x="770.69" y="473.8" width="2.6" height="5.2" fill="#4d8504"/>
<rect x="775.63" y="475.9" width="2.6" height="3.1" fill="#4d8504"/>
<rect x="780.57" y="473.2" width="2.6" height="5.8" fill="#4d8504"/>
<rect x="785.50" y="473.2" width="2.6" height="5.8" fill="#4d8504"/>
<rect x="790.44" y="472.1" width="2.6" height="6.9" fill="#4d8504"/>
<rect x="795.38" y="476.3" width="2.6" height="2.7" fill="#4d8504"/>
<rect x="800.31" y="471.7" width="2.6" height="7.3" fill="#4d8504"/>
<rect x="805.25" y="474.4" width="2.6" height="4.6" fill="#4d8504"/>
<rect x="810.19" y="472.1" width="2.6" height="6.9" fill="#4d8504"/>
<rect x="815.12" y="471.7" width="2.6" height="7.3" fill="#4d8504"/>
<rect x="820.06" y="475.9" width="2.6" height="3.1" fill="#4d8504"/>
<rect x="825.00" y="461.7" width="2.6" height="17.3" fill="#4d8504"/>
<line x1="0" y1="482.6" x2="928.6" y2="482.6" stroke="#3a3a3a" stroke-width="1.4"/>
<line x1="101" y1="482" x2="101" y2="486" stroke="#3a3a3a" stroke-width="1.2"/>
<line x1="199.6" y1="482" x2="199.6" y2="486" stroke="#3a3a3a" stroke-width="1.2"/>
<line x1="308" y1="482" x2="308" y2="486" stroke="#3a3a3a" stroke-width="1.2"/>
<line x1="411.9" y1="482" x2="411.9" y2="486" stroke="#3a3a3a" stroke-width="1.2"/>
<line x1="515.5" y1="482" x2="515.5" y2="486" stroke="#3a3a3a" stroke-width="1.2"/>
<line x1="624.5" y1="482" x2="624.5" y2="486" stroke="#3a3a3a" stroke-width="1.2"/>
<line x1="727.8" y1="482" x2="727.8" y2="486" stroke="#3a3a3a" stroke-width="1.2"/>
<line x1="826.6" y1="482" x2="826.6" y2="486" stroke="#3a3a3a" stroke-width="1.2"/>
<line x1="924.4" y1="482" x2="924.4" y2="486" stroke="#3a3a3a" stroke-width="1.2"/>
<line x1="727.8" y1="496.5" x2="727.8" y2="509" stroke="#999" stroke-width="1.2"/>
<line x1="928.6" y1="0" x2="928.6" y2="483" stroke="#3a3a3a" stroke-width="1.4"/>
<line x1="928.6" y1="11.7" x2="932.2" y2="11.7" stroke="#3a3a3a" stroke-width="1.1"/>
<line x1="928.6" y1="68.7" x2="932.2" y2="68.7" stroke="#3a3a3a" stroke-width="1.1"/>
<line x1="928.6" y1="125.6" x2="932.2" y2="125.6" stroke="#3a3a3a" stroke-width="1.1"/>
<line x1="928.6" y1="182.5" x2="932.2" y2="182.5" stroke="#3a3a3a" stroke-width="1.1"/>
<line x1="928.6" y1="239.4" x2="932.2" y2="239.4" stroke="#3a3a3a" stroke-width="1.1"/>
<line x1="928.6" y1="296.3" x2="932.2" y2="296.3" stroke="#3a3a3a" stroke-width="1.1"/>
<line x1="928.6" y1="353.3" x2="932.2" y2="353.3" stroke="#3a3a3a" stroke-width="1.1"/>
<line x1="928.6" y1="410.2" x2="932.2" y2="410.2" stroke="#3a3a3a" stroke-width="1.1"/>
<polygon points="928.6,37.9 934.1,40.2 928.6,42.5" fill="#111"/>
<polygon points="928.6,94.8 934.1,97.1 928.6,99.4" fill="#111"/>
<polygon points="928.6,151.7 934.1,154.0 928.6,156.3" fill="#111"/>
<polygon points="928.6,208.7 934.1,211.0 928.6,213.3" fill="#111"/>
<polygon points="928.6,265.6 934.1,267.9 928.6,270.2" fill="#111"/>
<polygon points="928.6,322.5 934.1,324.8 928.6,327.1" fill="#111"/>
<polygon points="928.6,379.4 934.1,381.7 928.6,384.0" fill="#111"/>
<polygon points="928.6,420.0 934.1,422.3 928.6,424.6" fill="#111"/>
<polygon points="928.6,447.7 934.1,450.0 928.6,452.3" fill="#111"/>
<polygon points="928.6,474.7 934.1,477.0 928.6,479.3" fill="#111"/>
<line x1="928.6" y1="435.4" x2="932.2" y2="435.4" stroke="#3a3a3a" stroke-width="1.1"/>
<line x1="928.6" y1="463.5" x2="932.2" y2="463.5" stroke="#3a3a3a" stroke-width="1.1"/>
<polygon points="929.4,96.3 933.6,90.0 976,90.0 976,102.5 933.6,102.5" fill="#f0596b" stroke="#5a1a22" stroke-width="1"/>
<text x="935.6" y="100.2" font-size="11" fill="#5a0a14" text-anchor="start" textLength="29.8" lengthAdjust="spacingAndGlyphs" >0.1807</text>
<polygon points="929.4,134.0 933.6,127.2 976,127.2 976,140.8 933.6,140.8" fill="#3f9cf6" stroke="#16305a" stroke-width="1"/>
<text x="935.6" y="137.9" font-size="11" fill="#071c44" text-anchor="start" textLength="29.8" lengthAdjust="spacingAndGlyphs" >0.1678</text>
<text x="936.8" y="158.1" font-size="11" fill="#222" text-anchor="start" textLength="24.6" lengthAdjust="spacingAndGlyphs" >0.160</text>
<text x="936.8" y="215.1" font-size="11" fill="#222" text-anchor="start" textLength="24.6" lengthAdjust="spacingAndGlyphs" >0.140</text>
<text x="936.8" y="272.0" font-size="11" fill="#222" text-anchor="start" textLength="24.6" lengthAdjust="spacingAndGlyphs" >0.120</text>
<text x="936.8" y="328.9" font-size="11" fill="#222" text-anchor="start" textLength="24.6" lengthAdjust="spacingAndGlyphs" >0.100</text>
<text x="936.8" y="385.8" font-size="11" fill="#222" text-anchor="start" textLength="24.6" lengthAdjust="spacingAndGlyphs" >0.080</text>
<polygon points="929.4,43.2 933.6,36.1 976,36.1 976,50.3 933.6,50.3" fill="#3f9cf6" stroke="#16305a" stroke-width="1"/>
<text x="935.4" y="47.2" font-size="11" fill="#071c44" text-anchor="start" textLength="24.8" lengthAdjust="spacingAndGlyphs" >0.199</text>
<polygon points="929.4,88.2 933.6,81.1 976,81.1 976,95.3 933.6,95.3" fill="#45dc45" stroke="#14501a" stroke-width="1"/>
<text x="935.6" y="92.2" font-size="11" fill="#0c3c10" text-anchor="start" textLength="24.4" lengthAdjust="spacingAndGlyphs" >0.183</text>
<polygon points="929.4,127.6 933.6,121.0 976,121.0 976,134.2 933.6,134.2" fill="#3f9cf6" stroke="#16305a" stroke-width="1"/>
<text x="935.4" y="131.6" font-size="11" fill="#071c44" text-anchor="start" textLength="24.8" lengthAdjust="spacingAndGlyphs" >0.169</text>
<polygon points="929.4,170.3 933.6,163.2 976,163.2 976,177.4 933.6,177.4" fill="#3f9cf6" stroke="#16305a" stroke-width="1"/>
<text x="935.4" y="174.3" font-size="11" fill="#071c44" text-anchor="start" textLength="24.8" lengthAdjust="spacingAndGlyphs" >0.154</text>
<polygon points="929.4,219.3 933.6,212.2 976,212.2 976,226.4 933.6,226.4" fill="#528a06" stroke="#2c4a04" stroke-width="1"/>
<text x="935.6" y="223.3" font-size="11" fill="#eef2c8" text-anchor="start" textLength="29.8" lengthAdjust="spacingAndGlyphs" >0.1372</text>
<text x="936.9" y="454.0" font-size="11" fill="#222" text-anchor="start" textLength="22.9" lengthAdjust="spacingAndGlyphs" >100M</text>
<text x="936.3" y="481.0" font-size="11" fill="#222" text-anchor="start" textLength="5.4" lengthAdjust="spacingAndGlyphs" >0</text>
<polygon points="929.4,462.4 933.6,455.6 976,455.6 976,469.2 933.6,469.2" fill="#528a06" stroke="#2c4a04" stroke-width="1"/>
<text x="935.7" y="466.4" font-size="11" fill="#eef2c8" text-anchor="start" textLength="37.0" lengthAdjust="spacingAndGlyphs" >58.706M</text>
<text x="38.5" y="495.2" font-size="11" fill="#222" text-anchor="start" textLength="16.0" lengthAdjust="spacingAndGlyphs" >Jun</text>
<text x="143.3" y="495.2" font-size="11" fill="#222" text-anchor="start" textLength="13.3" lengthAdjust="spacingAndGlyphs" >Jul</text>
<text x="244.9" y="495.2" font-size="11" fill="#222" text-anchor="start" textLength="16.2" lengthAdjust="spacingAndGlyphs" >Aug</text>
<text x="351.5" y="495.2" font-size="11" fill="#222" text-anchor="start" textLength="16.2" lengthAdjust="spacingAndGlyphs" >Sep</text>
<text x="454.9" y="495.2" font-size="11" fill="#222" text-anchor="start" textLength="15.8" lengthAdjust="spacingAndGlyphs" >Oct</text>
<text x="560.7" y="495.2" font-size="11" fill="#222" text-anchor="start" textLength="17.2" lengthAdjust="spacingAndGlyphs" >Nov</text>
<text x="666.6" y="495.2" font-size="11" fill="#222" text-anchor="start" textLength="17.3" lengthAdjust="spacingAndGlyphs" >Dec</text>
<text x="768.1" y="495.2" font-size="11" fill="#222" text-anchor="start" textLength="16.3" lengthAdjust="spacingAndGlyphs" >Jan</text>
<text x="867.6" y="495.2" font-size="11" fill="#222" text-anchor="start" textLength="16.0" lengthAdjust="spacingAndGlyphs" >Feb</text>
<text x="352.8" y="507.4" font-size="11" fill="#222" text-anchor="start" textLength="21.6" lengthAdjust="spacingAndGlyphs" >2016</text>
<text x="816.6" y="507.4" font-size="11" fill="#222" text-anchor="start" textLength="21.3" lengthAdjust="spacingAndGlyphs" >2017</text>
<text x="2.1" y="521.0" font-size="10.8" fill="#222" text-anchor="start" textLength="15.6" lengthAdjust="spacingAndGlyphs" >SEG</text>
<text x="22.9" y="521.0" font-size="10.8" fill="#222" text-anchor="start" textLength="10.0" lengthAdjust="spacingAndGlyphs" >SP</text>
<text x="38.5" y="521.0" font-size="10.8" fill="#222" text-anchor="start" textLength="27.1" lengthAdjust="spacingAndGlyphs" >Equity</text>
<text x="70.8" y="521.0" font-size="10.8" fill="#222" text-anchor="start" textLength="50.9" lengthAdjust="spacingAndGlyphs" >(Spackman</text>
<text x="126.5" y="521.0" font-size="10.8" fill="#222" text-anchor="start" textLength="61.8" lengthAdjust="spacingAndGlyphs" >Entertainment</text>
<text x="193.5" y="521.0" font-size="10.8" fill="#222" text-anchor="start" textLength="29.0" lengthAdjust="spacingAndGlyphs" >Group</text>
<text x="225.8" y="521.0" font-size="10.8" fill="#222" text-anchor="start" textLength="16.0" lengthAdjust="spacingAndGlyphs" >Ltd)</text>
<text x="247.0" y="521.0" font-size="10.8" fill="#222" text-anchor="start" textLength="46.9" lengthAdjust="spacingAndGlyphs" >Spackman</text>
<text x="302.2" y="521.0" font-size="10.8" fill="#222" text-anchor="start" textLength="23.5" lengthAdjust="spacingAndGlyphs" >Daily</text>
<text x="329.9" y="521.0" font-size="10.8" fill="#222" text-anchor="start" textLength="84.7" lengthAdjust="spacingAndGlyphs" >20MAR2011-31JAN</text>
<text x="547.1" y="521.0" font-size="10.8" fill="#222" text-anchor="start" textLength="48.4" lengthAdjust="spacingAndGlyphs" >Copyright©</text>
<text x="600.6" y="521.0" font-size="10.8" fill="#222" text-anchor="start" textLength="21.4" lengthAdjust="spacingAndGlyphs" >2017</text>
<text x="626.6" y="521.0" font-size="10.8" fill="#222" text-anchor="start" textLength="48.9" lengthAdjust="spacingAndGlyphs" >Bloomberg</text>
<text x="680.3" y="521.0" font-size="10.8" fill="#222" text-anchor="start" textLength="35.4" lengthAdjust="spacingAndGlyphs" >Finance</text>
<text x="720.3" y="521.0" font-size="10.8" fill="#222" text-anchor="start" textLength="16.6" lengthAdjust="spacingAndGlyphs" >L.P.</text>
<text x="869.7" y="521.0" font-size="10.8" fill="#222" text-anchor="start" textLength="58.3" lengthAdjust="spacingAndGlyphs" >31-Jan-2017</text>
<text x="932.8" y="521.0" font-size="10.8" fill="#222" text-anchor="start" textLength="39.5" lengthAdjust="spacingAndGlyphs" >18:02:16</text>
<text x="407.5" y="364.4" font-size="18" fill="#ff1616" text-anchor="start" textLength="55.0" lengthAdjust="spacingAndGlyphs" stroke="#ff1616" stroke-width="0.35">Bullish</text>
<text x="469.6" y="364.4" font-size="18" fill="#ff1616" text-anchor="start" textLength="73.6" lengthAdjust="spacingAndGlyphs" stroke="#ff1616" stroke-width="0.35">Engulfing</text>
<text x="550.5" y="364.4" font-size="18" fill="#ff1616" text-anchor="start" textLength="25.2" lengthAdjust="spacingAndGlyphs" stroke="#ff1616" stroke-width="0.35">Bar</text>
<text x="585.2" y="364.4" font-size="18" fill="#ff1616" text-anchor="start" textLength="72.8" lengthAdjust="spacingAndGlyphs" stroke="#ff1616" stroke-width="0.35">rejection</text>
<text x="665.1" y="364.4" font-size="18" fill="#ff1616" text-anchor="start" textLength="21.7" lengthAdjust="spacingAndGlyphs" stroke="#ff1616" stroke-width="0.35">off</text>
<text x="693.9" y="364.4" font-size="18" fill="#ff1616" text-anchor="start" textLength="24.3" lengthAdjust="spacingAndGlyphs" stroke="#ff1616" stroke-width="0.35">the</text>
<text x="726.0" y="364.4" font-size="18" fill="#ff1616" text-anchor="start" textLength="44.1" lengthAdjust="spacingAndGlyphs" stroke="#ff1616" stroke-width="0.35">60MA,</text>
<text x="778.3" y="364.4" font-size="18" fill="#ff1616" text-anchor="start" textLength="42.5" lengthAdjust="spacingAndGlyphs" stroke="#ff1616" stroke-width="0.35">38.2%</text>
<text x="829.1" y="364.4" font-size="18" fill="#ff1616" text-anchor="start" textLength="19.8" lengthAdjust="spacingAndGlyphs" stroke="#ff1616" stroke-width="0.35">fib</text>
<text x="407.1" y="385.6" font-size="18" fill="#ff1616" text-anchor="start" textLength="27.1" lengthAdjust="spacingAndGlyphs" stroke="#ff1616" stroke-width="0.35">and</text>
<text x="442.5" y="385.6" font-size="18" fill="#ff1616" text-anchor="start" textLength="42.4" lengthAdjust="spacingAndGlyphs" stroke="#ff1616" stroke-width="0.35">0.169</text>
<text x="492.7" y="385.6" font-size="18" fill="#ff1616" text-anchor="start" textLength="83.0" lengthAdjust="spacingAndGlyphs" stroke="#ff1616" stroke-width="0.35">resistance</text>
<text x="582.8" y="385.6" font-size="18" fill="#ff1616" text-anchor="start" textLength="51.6" lengthAdjust="spacingAndGlyphs" stroke="#ff1616" stroke-width="0.35">turned</text>
<text x="641.5" y="385.6" font-size="18" fill="#ff1616" text-anchor="start" textLength="60.2" lengthAdjust="spacingAndGlyphs" stroke="#ff1616" stroke-width="0.35">support</text>
<text x="709.5" y="385.6" font-size="18" fill="#ff1616" text-anchor="start" textLength="33.9" lengthAdjust="spacingAndGlyphs" stroke="#ff1616" stroke-width="0.35">area</text>
<text x="752.4" y="385.6" font-size="18" fill="#ff1616" text-anchor="start" textLength="44.3" lengthAdjust="spacingAndGlyphs" stroke="#ff1616" stroke-width="0.35">broke</text>
<text x="804.8" y="385.6" font-size="18" fill="#ff1616" text-anchor="start" textLength="40.8" lengthAdjust="spacingAndGlyphs" stroke="#ff1616" stroke-width="0.35">price</text>
<text x="407.1" y="406.6" font-size="18" fill="#ff1616" text-anchor="start" textLength="47.2" lengthAdjust="spacingAndGlyphs" stroke="#ff1616" stroke-width="0.35">above</text>
<text x="461.8" y="406.6" font-size="18" fill="#ff1616" text-anchor="start" textLength="23.6" lengthAdjust="spacingAndGlyphs" stroke="#ff1616" stroke-width="0.35">the</text>
<text x="493.2" y="406.6" font-size="18" fill="#ff1616" text-anchor="start" textLength="65.3" lengthAdjust="spacingAndGlyphs" stroke="#ff1616" stroke-width="0.35">pullback</text>
<text x="566.3" y="406.6" font-size="18" fill="#ff1616" text-anchor="start" textLength="30.0" lengthAdjust="spacingAndGlyphs" stroke="#ff1616" stroke-width="0.35">line</text>
<text x="604.0" y="406.6" font-size="18" fill="#ff1616" text-anchor="start" textLength="69.4" lengthAdjust="spacingAndGlyphs" stroke="#ff1616" stroke-width="0.35">suggests</text>
<text x="681.1" y="406.6" font-size="18" fill="#ff1616" text-anchor="start" textLength="54.8" lengthAdjust="spacingAndGlyphs" stroke="#ff1616" stroke-width="0.35">further</text>
<text x="744.1" y="406.6" font-size="18" fill="#ff1616" text-anchor="start" textLength="51.2" lengthAdjust="spacingAndGlyphs" stroke="#ff1616" stroke-width="0.35">upside</text>
<text x="803.8" y="406.6" font-size="18" fill="#ff1616" text-anchor="start" textLength="33.5" lengthAdjust="spacingAndGlyphs" stroke="#ff1616" stroke-width="0.35">next</text>
</svg>
</body></html>
